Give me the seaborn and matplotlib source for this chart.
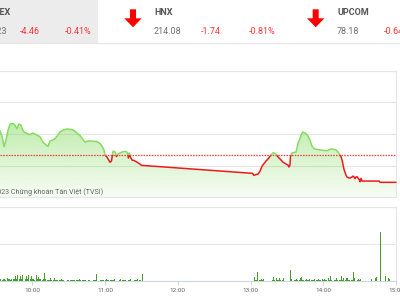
import numpy as np
import pandas as pd
import matplotlib
matplotlib.use("Agg")
import matplotlib.pyplot as plt
import seaborn as sns
from matplotlib.patches import Rectangle, Polygon

# ---------------- data ----------------
ref_value = 1086.69

am_time = ["09:32:20","09:33:10","09:34:50","09:36:30","09:38:10","09:39:50","09:41:30","09:43:50",
           "09:45:30","09:47:10","09:48:50","09:50:30","09:51:20","09:53:00","09:55:30","09:58:00",
           "10:00:20","10:02:50","10:06:10","10:08:40","10:11:10","10:12:50","10:14:30","10:16:50",
           "10:18:30","10:21:00","10:22:40","10:25:10","10:28:30","10:31:00","10:32:40","10:35:00",
           "10:36:40","10:39:10","10:40:50","10:43:20","10:45:50","10:49:10","10:51:30","10:53:10",
           "10:55:40","10:57:20","10:59:00","10:59:50","11:01:30","11:04:00","11:05:10","11:06:30",
           "11:08:10","11:09:20","11:10:30","11:12:10","11:13:50","11:15:30","11:17:10","11:18:20",
           "11:19:10","11:20:00","11:20:50","11:22:10","11:23:50","11:26:10","11:28:40","11:30:00"]
am_value = [1090.48, 1090.53, 1089.69, 1088.00, 1089.06, 1090.64, 1091.58, 1091.70,
            1091.43, 1090.84, 1091.58, 1091.43, 1090.95, 1090.32, 1090.08, 1089.90,
            1090.16, 1089.93, 1089.58, 1088.74, 1088.27, 1088.06, 1088.90, 1089.06,
            1089.26, 1089.85, 1090.32, 1090.64, 1090.80, 1090.75, 1090.69, 1090.48,
            1090.16, 1089.77, 1089.37, 1088.74, 1088.90, 1088.90, 1088.85, 1088.82,
            1088.51, 1088.11, 1087.48, 1086.69, 1086.37, 1085.54, 1085.74, 1087.32,
            1087.16, 1086.45, 1086.85, 1087.01, 1087.16, 1087.24, 1087.24, 1087.08,
            1086.22, 1087.01, 1086.37, 1085.90, 1085.82, 1085.58, 1085.27, 1085.06]

pm_time = ["13:01:30","13:02:50","13:04:30","13:06:10","13:07:50","13:09:20","13:10:10","13:11:50",
           "13:12:40","13:14:20","13:15:10","13:16:50","13:18:30","13:19:20","13:21:00","13:22:40",
           "13:24:20","13:26:40","13:29:10","13:30:50","13:31:40","13:32:30","13:33:00","13:34:10",
           "13:35:50","13:37:30","13:38:20","13:39:10","13:40:50","13:41:40","13:42:30","13:43:10",
           "13:44:50","13:45:40","13:47:20","13:49:00","13:50:40","13:51:50","13:53:10","13:55:40",
           "13:57:20","13:59:40","14:03:00","14:05:30","14:07:10","14:08:50","14:10:30","14:12:10",
           "14:13:50","14:14:40","14:15:30","14:16:20","14:17:00","14:17:50","14:18:40","14:19:30",
           "14:21:10","14:22:00","14:23:40","14:24:30","14:25:20","14:26:10","14:27:00","14:27:50",
           "14:28:40","14:29:50","14:30:20","14:31:10","14:32:00","14:46:00","14:46:50","15:00:00"]
pm_value = [1083.80, 1083.48, 1083.61, 1083.69, 1084.16, 1084.87, 1085.11, 1085.51,
            1085.74, 1086.06, 1086.26, 1086.69, 1087.01, 1087.05, 1086.85, 1086.37,
            1086.06, 1085.58, 1085.27, 1085.11, 1084.80, 1085.11, 1086.53, 1087.01,
            1087.08, 1087.16, 1087.80, 1088.58, 1089.33, 1089.85, 1090.16, 1090.32,
            1090.16, 1090.08, 1089.69, 1089.06, 1088.11, 1087.80, 1087.64, 1087.56,
            1087.48, 1087.43, 1087.37, 1087.59, 1087.64, 1087.56, 1087.48, 1087.16,
            1086.69, 1086.37, 1085.90, 1085.11, 1084.48, 1084.01, 1083.53, 1083.22,
            1083.06, 1083.06, 1083.22, 1083.37, 1083.22, 1082.95, 1083.22, 1083.26,
            1083.06, 1082.74, 1082.47, 1083.01, 1082.58, 1082.58, 1082.38, 1082.38]

# per-minute volume (thousand shares)
am_vol_start = "09:33"
am_vol = [70, 90, 60, 110, 80, 60, 120, 70, 90, 60,
          80, 100, 70, 270, 90, 330, 80, 270, 100, 330,
          90, 110, 270, 80, 330, 90, 270, 70, 100, 60,
          330, 80, 220, 70, 90, 60, 80, 440, 70, 60,
          50, 60, 165, 50, 60, 165, 60, 50, 40, 60,
          50, 110, 50, 40, 0, 0, 50, 60, 40, 50,
          60, 50, 40, 60, 50, 40, 110, 50, 60, 40,
          50, 60, 40, 50, 60, 0, 0, 50, 40, 60,
          380, 0, 0, 50, 60, 40, 50, 60, 110, 50,
          40, 60, 50, 40, 50, 110, 0, 0, 0, 50,
          110, 50, 40, 60, 50, 40, 50, 60, 110, 0,
          0, 50, 40, 60, 110, 50, 40, 0, 380]
pm_vol_start = "13:00"
pm_vol = [0, 0, 640, 220, 60, 50, 490, 60, 50, 110,
          50, 110, 0, 0, 0, 0, 0, 0, 60, 220,
          50, 165, 60, 50, 165, 60, 40, 165, 0, 0,
          0, 0, 0, 580, 110, 60, 50, 60, 110, 50,
          60, 165, 220, 60, 50, 60, 110, 50, 60, 110,
          50, 60, 50, 110, 60, 50, 110, 60, 50, 110,
          60, 110, 50, 60, 165, 60, 255, 60, 110, 50,
          60, 165, 60, 50, 60, 255, 60, 165, 60, 165,
          165, 60, 50, 60, 50, 450, 165, 60, 50, 110,
          60, 80]
atc_time = ["14:40", "14:43", "14:44", "14:47", "14:51", "14:54", "14:55"]
atc_vol = [110, 165, 180, 2670, 255, 165, 110]

tick_labels = ["10:00", "11:00", "12:00", "13:00", "14:00", "15:00"]

hdr_names = ["VN-INDEX", "HNX", "UPCOM"]
hdr_values = ["1,082.23", "214.08", "78.18"]
hdr_changes = ["-4.46", "-1.74", "-0.64"]
hdr_pcts = ["-0.41%", "-0.81%", "-0.81%"]
copyright_text = "© 2023 Chứng khoán Tân Việt (TVSI)"

# ---------------- helpers ----------------
def to_min(s):
    parts = [int(p) for p in s.split(":")]
    while len(parts) < 3:
        parts.append(0)
    return parts[0] * 60 + parts[1] + parts[2] / 60.0

W, H = 400, 300
def fx(x):
    return x / W
def fy(y):
    return 1 - y / H

sns.set_theme(style="white")
plt.rcParams["font.family"] = ["Roboto", "DejaVu Sans"]

fig = plt.figure(figsize=(4, 3), dpi=100)
fig.patch.set_facecolor("white")

XMIN, XMAX = 573.2, 900.0
GREEN_LINE = "#86dc62"
GREEN_FILL = np.array([126, 217, 87]) / 255.0
RED = "#ee1a1a"
GRID = "#e6e6e6"

# ---------------- header ----------------
fig.patches.append(Rectangle((0, fy(42.7)), fx(97.7), 42.7 / H, transform=fig.transFigure,
                             facecolor="#ececec", edgecolor="none", zorder=0))
fig.lines.append(plt.Line2D([0, 1], [fy(43), fy(43)], transform=fig.transFigure,
                            color="#e4e4e4", lw=0.8))

label_x = [(11, "right"), (154, "left"), (337, "left")]
value_x = [6.5, 154, 337]
change_x = [20, 200.7, 383.5]
pct_x = [65, 248.7, 431]
for i in range(3):
    lx, ha = label_x[i]
    fig.text(fx(lx), fy(12.3), hdr_names[i], ha=ha, va="center", fontsize=6.5,
             fontweight="bold", color="#555555")
    fig.text(fx(value_x[i]), fy(31.5), hdr_values[i], ha="right" if i == 0 else "left",
             va="center", fontsize=6.5, color="#707070")
    fig.text(fx(change_x[i]), fy(31.5), hdr_changes[i], ha="left", va="center",
             fontsize=6.5, color="#ff3333")
    fig.text(fx(pct_x[i]), fy(31.5), hdr_pcts[i], ha="left", va="center",
             fontsize=6.5, color="#ff3333")

for cx in (133.0, 315.7):
    pts = [(cx - 3, 9.3), (cx + 3, 9.3), (cx + 3, 18.3), (cx + 8.7, 18.3),
           (cx, 27.3), (cx - 8.7, 18.3), (cx - 3, 18.3)]
    fig.patches.append(Polygon([(fx(a), fy(b)) for a, b in pts], closed=True,
                               transform=fig.transFigure, facecolor="#ff0000",
                               edgecolor="none"))

# ---------------- price chart ----------------
ax = fig.add_axes([0, fy(197.4), 396 / W, (197.4 - 70.7) / H])
pt = [to_min(t) for t in am_time + pm_time]
pv = am_value + pm_value
df = pd.DataFrame({"t": pt, "v": pv})

YMIN, YMAX = 1080, 1100
poly = ax.fill_between(df["t"], df["v"], YMIN, facecolor="none", edgecolor="none")
alpha = np.linspace(0.80, 0.06, 256)
img = np.zeros((256, 1, 4))
img[:, 0, :3] = GREEN_FILL
img[:, 0, 3] = alpha
im = ax.imshow(img, extent=[XMIN, XMAX, YMIN, YMAX], aspect="auto", origin="upper",
               zorder=1, interpolation="bilinear")
im.set_clip_path(poly.get_paths()[0], ax.transData)

sns.lineplot(data=df, x="t", y="v", ax=ax, color=GREEN_LINE, lw=1.1, sort=False,
             estimator=None, zorder=3)
ln_g = ax.lines[-1]
sns.lineplot(data=df, x="t", y="v", ax=ax, color=RED, lw=1.1, sort=False,
             estimator=None, zorder=3)
ln_r = ax.lines[-1]
ln_g.set_clip_path(Rectangle((XMIN - 50, ref_value), 500, 50, transform=ax.transData))
ln_r.set_clip_path(Rectangle((XMIN - 50, ref_value - 50), 500, 50, transform=ax.transData))

ax.axhline(ref_value, color="#f04545", lw=0.9, ls=(0, (1.3, 0.9)), zorder=4)

ax.set_xlim(XMIN, XMAX)
ax.set_ylim(YMIN, YMAX)
ax.set_yticks([1080, 1085, 1090, 1095, 1100])
ax.yaxis.grid(True, color=GRID, lw=0.8)
ax.xaxis.grid(False)
ax.set_xticks([])
ax.tick_params(left=False, labelleft=False, bottom=False, labelbottom=False)
ax.set_xlabel("")
ax.set_ylabel("")
for s in ("top", "right", "bottom"):
    ax.spines[s].set_visible(True)
    ax.spines[s].set_color(GRID)
    ax.spines[s].set_linewidth(0.8)
ax.spines["left"].set_visible(False)
ax.set_facecolor("none")
ax.set_axisbelow(True)

fig.text(fx(102.7), fy(191.6), copyright_text, ha="right", va="center", fontsize=5.1,
         color="#666666")

# ---------------- volume chart ----------------
axv = fig.add_axes([0, fy(280.7), 396 / W, (280.7 - 207.3) / H])
am_t0 = to_min(am_vol_start)
pm_t0 = to_min(pm_vol_start)
vt = [am_t0 + i for i in range(len(am_vol))] + [pm_t0 + i for i in range(len(pm_vol))] \
     + [to_min(t) for t in atc_time]
vv = am_vol + pm_vol + atc_vol
axv.bar(vt, vv, width=0.8, color="#44a024", linewidth=0, zorder=3)

axv.set_xlim(XMIN, XMAX)
axv.set_ylim(0, 4000)
axv.set_yticks([0, 2000, 4000])
axv.yaxis.grid(True, color=GRID, lw=0.8)
axv.tick_params(left=False, labelleft=False)
axv.set_xticks([to_min(t) for t in tick_labels])
axv.set_xticklabels(tick_labels)
axv.tick_params(axis="x", bottom=True, direction="out", length=3.2, width=0.7,
                color="#ccd6eb", labelsize=4.6, labelcolor="#666666", pad=2.0)
for s in ("top", "right"):
    axv.spines[s].set_visible(True)
    axv.spines[s].set_color(GRID)
    axv.spines[s].set_linewidth(0.8)
axv.spines["bottom"].set_visible(True)
axv.spines["bottom"].set_color("#ccd6eb")
axv.spines["bottom"].set_linewidth(0.8)
axv.spines["left"].set_visible(False)
axv.set_facecolor("none")

fig.savefig("out.png", dpi=100, facecolor="white")
